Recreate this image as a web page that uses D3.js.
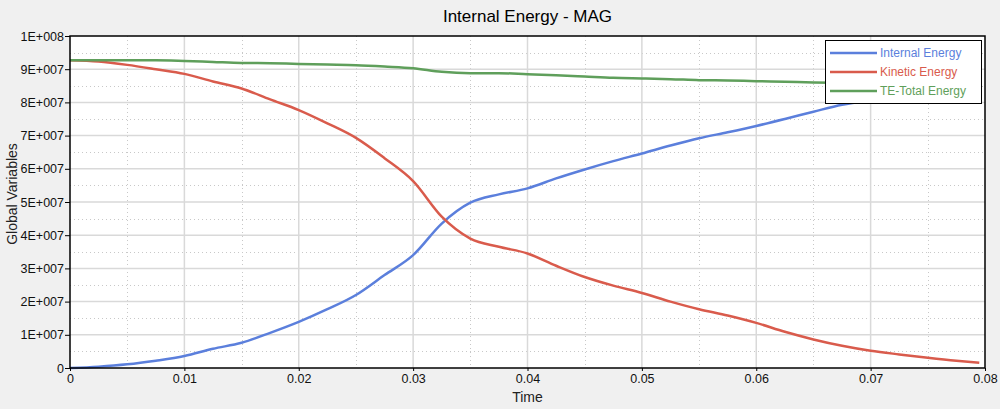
<!DOCTYPE html>
<html>
<head>
<meta charset="utf-8">
<script src="https://cdn.jsdelivr.net/npm/d3@7"></script>
<style>
  html, body { margin: 0; padding: 0; background: #f0f0f0; }
  svg { display: block; font-family: "Liberation Sans", Arial, sans-serif; }
</style>
</head>
<body>
<svg id="chart" width="1000" height="409"></svg>
<script>
const title = "Internal Energy - MAG";
const xLabel = "Time";
const yLabel = "Global Variables";
const seriesNames = ["Internal Energy", "Kinetic Energy", "TE-Total Energy"];
const seriesColors = ["#5b7fdc", "#d95b4c", "#5f9f5b"];

const time = [0, 0.0025, 0.005, 0.0075, 0.01, 0.0125, 0.015, 0.0175, 0.02, 0.0225,
  0.025, 0.0275, 0.03, 0.0325, 0.035, 0.0375, 0.04, 0.0425, 0.045, 0.0475,
  0.05, 0.0525, 0.055, 0.0575, 0.06, 0.0625, 0.065, 0.0675, 0.07, 0.0725,
  0.075, 0.0775, 0.0795];

// values in units of 1E+006
const internalEnergy = [0, 0.4, 1.1, 2.2, 3.6, 5.8, 7.6, 10.6, 13.9, 17.7,
  22.0, 28.0, 34.0, 43.5, 49.8, 52.3, 54.1, 57.1, 59.8, 62.3,
  64.6, 67.0, 69.2, 71.0, 72.9, 75.0, 77.2, 79.3, 80.6, 81.6,
  82.5, 83.3, 83.8];
const kineticEnergy = [92.7, 92.3, 91.3, 90.0, 88.6, 86.3, 84.2, 80.9, 77.7, 73.7,
  69.3, 63.2, 56.3, 45.6, 39.0, 36.5, 34.5, 30.8, 27.4, 24.8,
  22.6, 20.0, 17.7, 15.8, 13.6, 10.9, 8.6, 6.7, 5.2, 4.1,
  3.1, 2.2, 1.6];
const totalEnergy = [92.7, 92.7, 92.7, 92.7, 92.5, 92.2, 91.9, 91.8, 91.6, 91.4,
  91.2, 90.8, 90.3, 89.2, 88.8, 88.8, 88.5, 88.2, 87.8, 87.4,
  87.2, 87.0, 86.7, 86.6, 86.4, 86.2, 86.0, 85.9, 85.8, 85.7,
  85.6, 85.5, 85.4];

const xTicks = [0, 0.01, 0.02, 0.03, 0.04, 0.05, 0.06, 0.07, 0.08];
const xTickLabels = ["0", "0.01", "0.02", "0.03", "0.04", "0.05", "0.06", "0.07", "0.08"];
const yTicks = [0, 1e7, 2e7, 3e7, 4e7, 5e7, 6e7, 7e7, 8e7, 9e7, 1e8];
const yTickLabels = ["0", "1E+007", "2E+007", "3E+007", "4E+007", "5E+007", "6E+007", "7E+007", "8E+007", "9E+007", "1E+008"];

const allSeries = [internalEnergy, kineticEnergy, totalEnergy];

const svg = d3.select("#chart");
const pL = 70, pR = 985, pT = 36, pB = 368;

const x = d3.scaleLinear().domain([0, 0.08]).range([pL, pR]);
const y = d3.scaleLinear().domain([0, 1e8]).range([pB, pT]);

// plot background
svg.append("rect").attr("x", pL).attr("y", pT)
  .attr("width", pR - pL).attr("height", pB - pT).attr("fill", "#ffffff");

// minor grid (dotted)
const xMinor = xTicks.slice(0, -1).map(d => d + 0.005);
const yMinor = yTicks.slice(0, -1).map(d => d + 5e6);
svg.append("g").selectAll("line").data(xMinor).join("line")
  .attr("x1", d => Math.round(x(d)) + 0.5).attr("x2", d => Math.round(x(d)) + 0.5)
  .attr("y1", pT).attr("y2", pB)
  .attr("stroke", "#c8c8c8").attr("stroke-width", 1).attr("stroke-dasharray", "1,3");
svg.append("g").selectAll("line").data(yMinor).join("line")
  .attr("y1", d => Math.round(y(d)) + 0.5).attr("y2", d => Math.round(y(d)) + 0.5)
  .attr("x1", pL).attr("x2", pR)
  .attr("stroke", "#c8c8c8").attr("stroke-width", 1).attr("stroke-dasharray", "1,3");

// major grid
svg.append("g").selectAll("line").data(xTicks.slice(1, -1)).join("line")
  .attr("x1", d => x(d)).attr("x2", d => x(d))
  .attr("y1", pT).attr("y2", pB)
  .attr("stroke", "#d9d9d9").attr("stroke-width", 1.5);
svg.append("g").selectAll("line").data(yTicks.slice(1, -1)).join("line")
  .attr("y1", d => y(d)).attr("y2", d => y(d))
  .attr("x1", pL).attr("x2", pR)
  .attr("stroke", "#d9d9d9").attr("stroke-width", 1.5);

// series lines
const line = d3.line().x((d, i) => x(time[i])).y(d => y(d * 1e6)).curve(d3.curveMonotoneX);
allSeries.forEach((s, k) => {
  svg.append("path").datum(s)
    .attr("d", line)
    .attr("fill", "none")
    .attr("stroke", seriesColors[k])
    .attr("stroke-width", 2.5)
    .attr("stroke-linejoin", "round");
});

// frame
svg.append("rect").attr("x", pL).attr("y", pT)
  .attr("width", pR - pL).attr("height", pB - pT)
  .attr("fill", "none").attr("stroke", "#000").attr("stroke-width", 1.5);

// axes
const xAxis = d3.axisBottom(x).tickValues(xTicks)
  .tickFormat((d, i) => xTickLabels[i]).tickSize(3).tickPadding(3);
const gx = svg.append("g").attr("transform", `translate(0,${pB})`).call(xAxis);
gx.select(".domain").remove();
gx.selectAll("text").attr("font-size", 12.5).attr("fill", "#111")
  .attr("font-family", "'Liberation Sans', Arial, sans-serif");

const yAxis = d3.axisLeft(y).tickValues(yTicks)
  .tickFormat((d, i) => yTickLabels[i]).tickSize(5).tickPadding(1);
const gy = svg.append("g").attr("transform", `translate(${pL},0)`).call(yAxis);
gy.select(".domain").remove();
gy.selectAll("text").attr("font-size", 12.5).attr("fill", "#111")
  .attr("font-family", "'Liberation Sans', Arial, sans-serif");

// title & labels
svg.append("text").attr("x", (pL + pR) / 2).attr("y", 22)
  .attr("text-anchor", "middle").attr("font-size", 17).attr("fill", "#000").text(title);
svg.append("text").attr("x", (pL + pR) / 2).attr("y", 402)
  .attr("text-anchor", "middle").attr("font-size", 14).attr("fill", "#222").text(xLabel);
svg.append("text").attr("transform", `translate(17,${(pT + pB) / 2 - 8}) rotate(-90)`)
  .attr("text-anchor", "middle").attr("font-size", 14).attr("fill", "#222").text(yLabel);

// legend
const lg = svg.append("g");
lg.append("rect").attr("x", 825.5).attr("y", 40.5).attr("width", 156).attr("height", 63)
  .attr("fill", "#fff").attr("stroke", "#000").attr("stroke-width", 1);
seriesNames.forEach((name, k) => {
  const yy = 53 + k * 19;
  lg.append("line").attr("x1", 830).attr("x2", 877).attr("y1", yy).attr("y2", yy)
    .attr("stroke", seriesColors[k]).attr("stroke-width", 2.5);
  lg.append("text").attr("x", 880).attr("y", yy + 4).attr("font-size", 12)
    .attr("fill", seriesColors[k]).text(name);
});
</script>
</body>
</html>
